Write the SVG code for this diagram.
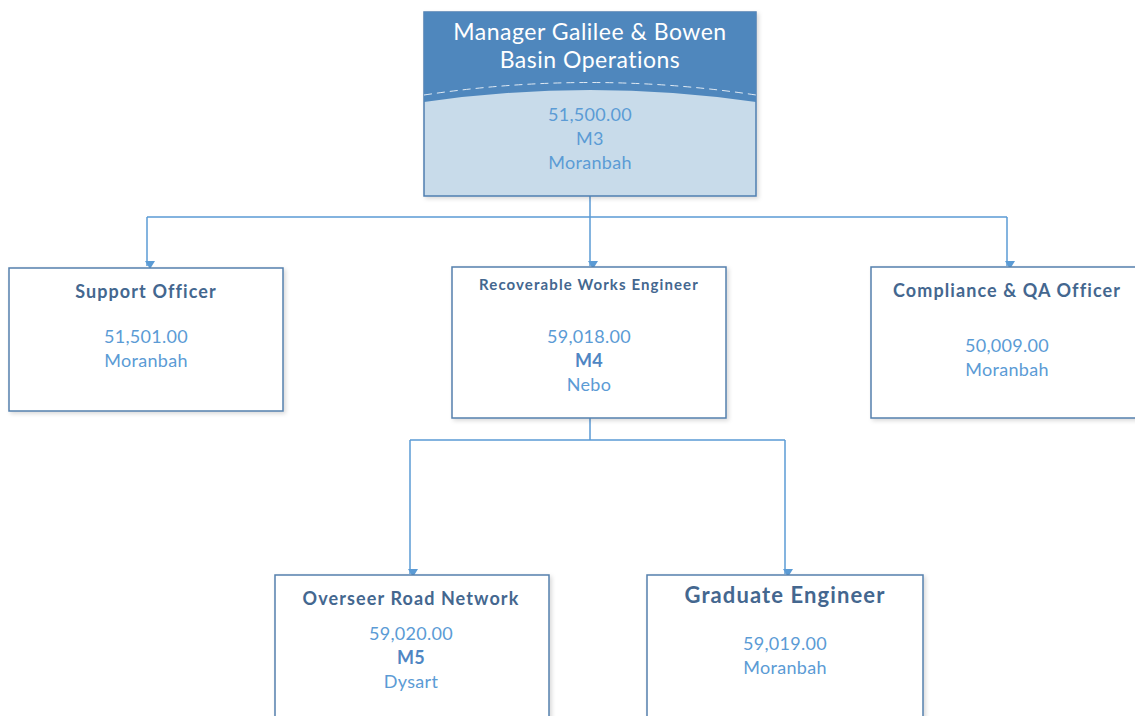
<svg xmlns="http://www.w3.org/2000/svg" width="1135" height="716" viewBox="0 0 1135 716">
<style>
.box{fill:#fff;stroke:#5580ad;stroke-width:1.5}
.t{font-family:Lato,"Liberation Sans",sans-serif;font-weight:bold;fill:#44678f;text-anchor:middle;letter-spacing:1.1px}
.v{font-family:Lato,"Liberation Sans",sans-serif;fill:#5b9bd5;text-anchor:middle;font-size:18px;letter-spacing:0.3px}
.vb{font-weight:bold;fill:#4f86c3}
.c{fill:none;stroke:#5b9bd5;stroke-width:1.5}
</style>
<defs>
<marker id="ah" markerWidth="10" markerHeight="10" refX="5" refY="8" orient="auto" markerUnits="userSpaceOnUse" viewBox="0 0 10 10">
<path d="M0,0 L10,0 L5,8 Z" fill="#5b9bd5" transform="rotate(-90 5 5)"/>
</marker>
<filter id="sh" x="-5%" y="-5%" width="115%" height="115%"><feDropShadow dx="2" dy="2" stdDeviation="2" flood-color="#000" flood-opacity="0.15"/></filter>
</defs>
<rect width="1135" height="716" fill="#fff"/>
<g id="connectors">
<path class="c" d="M590,196 V217 M147,217 H1007"/>
<path class="c" d="M147,217 V266" marker-end="url(#ah)"/>
<path class="c" d="M590,217 V266" marker-end="url(#ah)"/>
<path class="c" d="M1007,217 V266" marker-end="url(#ah)"/>
<path class="c" d="M590,418 V440 M410,440 H785"/>
<path class="c" d="M410,440 V574" marker-end="url(#ah)"/>
<path class="c" d="M785,440 V574" marker-end="url(#ah)"/>
</g>
<g id="manager">
<rect x="424" y="12" width="332" height="184" fill="#c8dbea" stroke="#4f7fb0" stroke-width="1.5" filter="url(#sh)"/>
<path d="M424,12 H756 V102 Q590,78 424,102 Z" fill="#4f87bd"/>
<path d="M424,95 Q590,70 756,95" fill="none" stroke="#dfe9f3" stroke-width="1" stroke-dasharray="8,5"/>
<text font-family="Lato,'Liberation Sans',sans-serif" font-size="23" fill="#fff" text-anchor="middle" letter-spacing="0.5"><tspan x="590" y="40">Manager Galilee &amp; Bowen</tspan><tspan x="590" y="68">Basin Operations</tspan></text>
<text class="v"><tspan x="590" y="121">51,500.00</tspan><tspan x="590" y="145">M3</tspan><tspan x="590" y="169">Moranbah</tspan></text>
</g>
<g id="support">
<rect class="box" x="9" y="268" width="274" height="143" filter="url(#sh)"/>
<text class="t" x="146" y="298" font-size="18">Support Officer</text>
<text class="v"><tspan x="146" y="343">51,501.00</tspan><tspan x="146" y="367">Moranbah</tspan></text>
</g>
<g id="recoverable">
<rect class="box" x="452" y="267" width="274" height="151" filter="url(#sh)"/>
<text class="t" x="589" y="290" font-size="15">Recoverable Works Engineer</text>
<text class="v"><tspan x="589" y="343">59,018.00</tspan><tspan x="589" y="367" class="vb">M4</tspan><tspan x="589" y="391">Nebo</tspan></text>
</g>
<g id="compliance">
<rect class="box" x="871" y="267" width="270" height="151" filter="url(#sh)"/>
<text class="t" x="1007" y="297" font-size="18">Compliance &amp; QA Officer</text>
<text class="v"><tspan x="1007" y="352">50,009.00</tspan><tspan x="1007" y="376">Moranbah</tspan></text>
</g>
<g id="overseer">
<rect class="box" x="275" y="575" width="274" height="150" filter="url(#sh)"/>
<text class="t" x="411" y="605" font-size="18">Overseer Road Network</text>
<text class="v"><tspan x="411" y="640">59,020.00</tspan><tspan x="411" y="664" class="vb">M5</tspan><tspan x="411" y="688">Dysart</tspan></text>
</g>
<g id="graduate">
<rect class="box" x="647" y="575" width="276" height="150" filter="url(#sh)"/>
<text class="t" x="785" y="603" font-size="22">Graduate Engineer</text>
<text class="v"><tspan x="785" y="650">59,019.00</tspan><tspan x="785" y="674">Moranbah</tspan></text>
</g>
</svg>
